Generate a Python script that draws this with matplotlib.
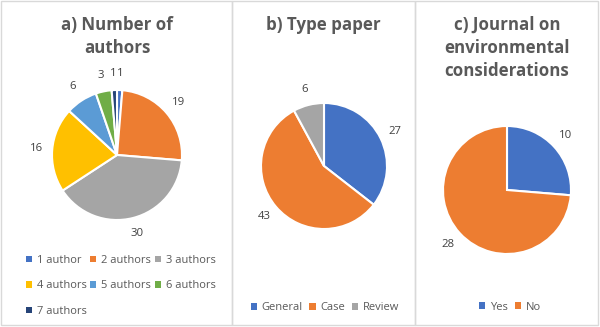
import matplotlib.pyplot as plt
from matplotlib.patches import Rectangle, Patch

# figure size in pixels, everything below is placed in pixel units
W, H = 600, 327

# a) number of authors
authors_labels = ["1 author", "2 authors", "3 authors", "4 authors",
                  "5 authors", "6 authors", "7 authors"]
authors_values = [1, 19, 30, 16, 6, 3, 1]
authors_colors = ["#4472C4", "#ED7D31", "#A5A5A5", "#FFC000",
                  "#5B9BD5", "#70AD47", "#264478"]

# b) type of paper
type_labels = ["General", "Case", "Review"]
type_values = [27, 43, 6]
type_colors = ["#4472C4", "#ED7D31", "#A5A5A5"]

# c) journal on environmental considerations
journal_labels = ["Yes", "No"]
journal_values = [10, 28]
journal_colors = ["#4472C4", "#ED7D31"]

plt.rcParams['font.family'] = ['Open Sans', 'DejaVu Sans']
TXT = "#595959"

fig = plt.figure(figsize=(W / 100, H / 100), dpi=100)


def fx(x):
    return x / W


def fy(y):
    return 1 - y / H


# panel borders
for x0, x1 in [(1, 232), (232, 415), (415, 598)]:
    fig.patches.append(Rectangle((fx(x0), fy(325)), fx(x1 - x0), (325 - 1) / H,
                                 transform=fig.transFigure, fill=False,
                                 edgecolor="#D9D9D9", linewidth=1))


def title(lines, cx, y0, step=23):
    for i, line in enumerate(lines):
        fig.text(fx(cx), fy(y0 + i * step), line, ha="center", va="baseline",
                 fontsize=12.2, fontweight="bold", color=TXT)


def draw_pie(values, colors, cx, cy, r):
    L = 1.4
    s = r * L
    ax = fig.add_axes([fx(cx - s), fy(cy + s), 2 * s / W, 2 * s / H])
    wedges, texts = ax.pie(values, colors=colors, startangle=90, counterclock=False,
                           labels=[str(v) for v in values], labeldistance=1.25,
                           wedgeprops=dict(edgecolor="white", linewidth=1.5),
                           textprops=dict(fontsize=8.2, color="#404040"))
    for t in texts:
        t.set_ha("center")
        t.set_va("center")
    ax.set_xlim(-L, L)
    ax.set_ylim(-L, L)
    ax.axis("off")
    return wedges


def legend(labels, colors, x, y, ncol, loc, order=None, colsp=0.6):
    handles = [Patch(facecolor=c, edgecolor="none") for c in colors]
    if order is not None:
        handles = [handles[i] for i in order]
        labels = [labels[i] for i in order]
    fig.legend(handles, labels, loc=loc, bbox_to_anchor=(fx(x), fy(y)),
               ncol=ncol, frameon=False, fontsize=8, labelcolor=TXT,
               handlelength=0.55, handleheight=0.55, handletextpad=0.45,
               columnspacing=colsp, labelspacing=1.3, borderpad=0, borderaxespad=0)


# panel a
title(["a) Number of", "authors"], 117, 30)
draw_pie(authors_values, authors_colors, 117, 155, 65)
legend(authors_labels, authors_colors, 26, 255, 3, "upper left",
       order=[0, 3, 6, 1, 4, 2, 5], colsp=0.3)

# panel b
title(["b) Type paper"], 323, 30)
draw_pie(type_values, type_colors, 324, 166, 63)
legend(type_labels, type_colors, 325, 308, 3, "center")

# panel c
title(["c) Journal on", "environmental", "considerations"], 507, 30)
draw_pie(journal_values, journal_colors, 507, 190, 64)
legend(journal_labels, journal_colors, 510, 307, 2, "center")

fig.savefig("out.png", dpi=100)
